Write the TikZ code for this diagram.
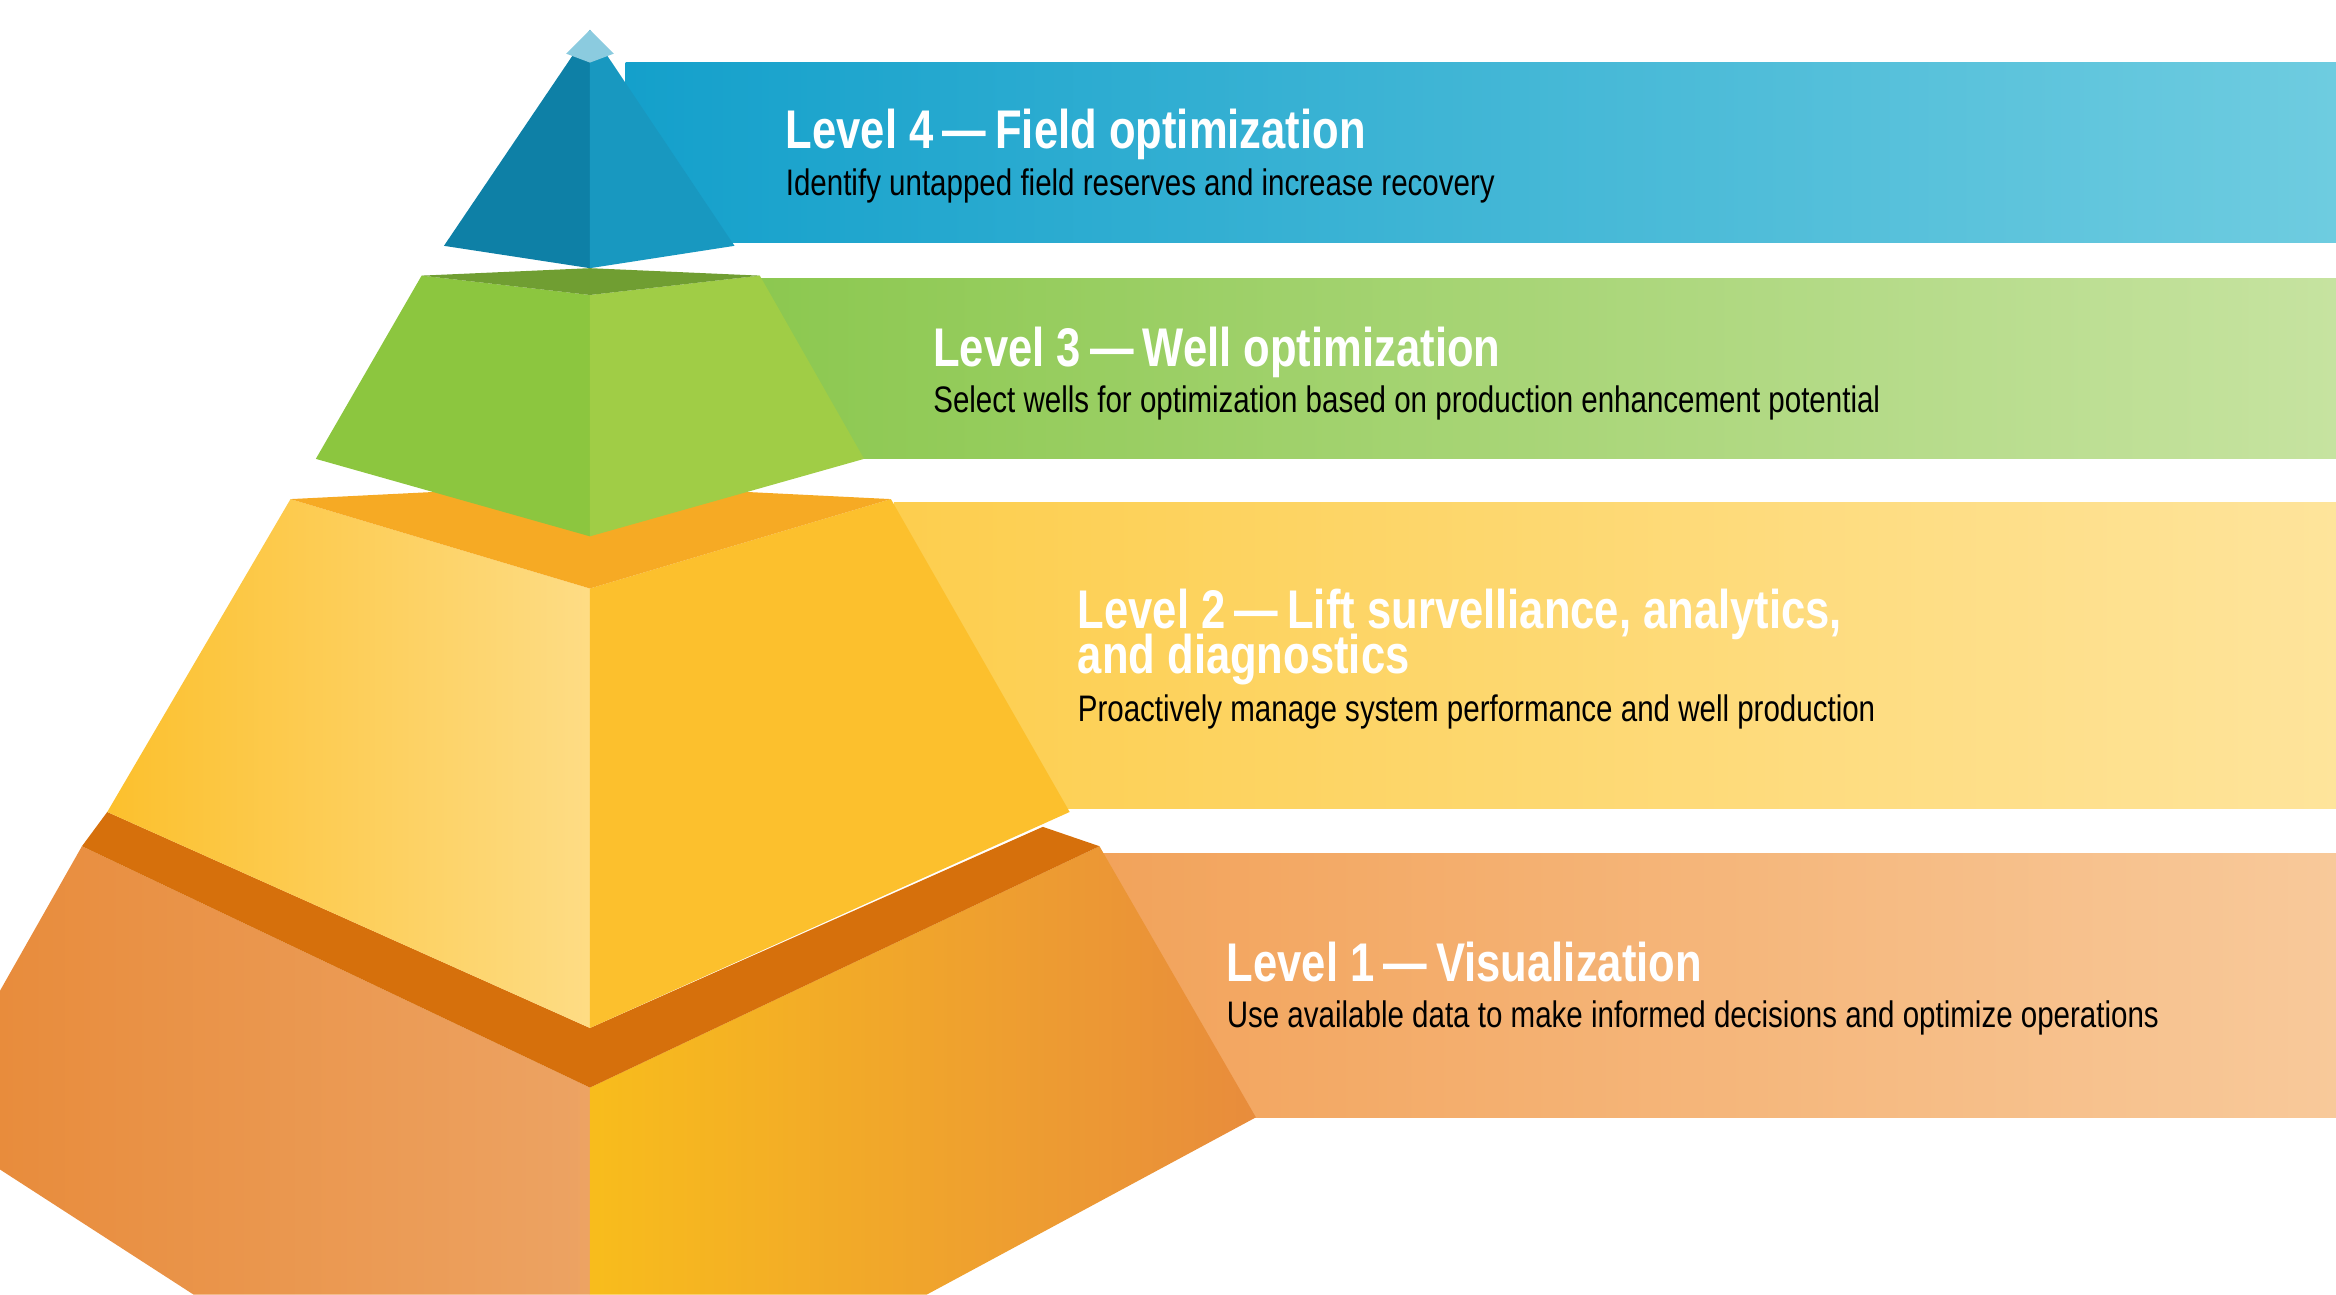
\documentclass[tikz,border=0pt]{standalone}
\usepackage{fontspec}
\setmainfont{Liberation Sans}[FakeStretch=0.8]
\usetikzlibrary{positioning}
\definecolor{bluedark}{RGB}{14,128,166}
\definecolor{bluemid}{RGB}{24,152,192}
\definecolor{bluebandl}{RGB}{20,160,203}
\definecolor{bluebandr}{RGB}{110,204,224}
\definecolor{greenl}{RGB}{140,198,63}
\definecolor{greenr}{RGB}{160,205,70}
\definecolor{greenbandl}{RGB}{140,200,80}
\definecolor{greenbandr}{RGB}{198,227,160}
\definecolor{yellowl}{RGB}{253,205,80}
\definecolor{yellowr}{RGB}{252,192,45}
\definecolor{yellowbandl}{RGB}{253,206,78}
\definecolor{yellowbandr}{RGB}{254,228,155}
\definecolor{orangel}{RGB}{232,140,60}
\definecolor{oranger}{RGB}{245,160,40}
\definecolor{orangedark}{RGB}{214,112,12}
\definecolor{orangebandl}{RGB}{242,163,91}
\definecolor{orangebandr}{RGB}{248,201,154}
\tikzset{
  titletext/.style={anchor=base west, text=white, font=\fontsize{15.5}{15.5}\selectfont\bfseries, inner sep=0pt, align=left},
  subtext/.style={anchor=base west, text=black, font=\fontsize{10.5}{10.5}\selectfont, inner sep=0pt},
}
\begin{document}
\begin{tikzpicture}[x=0.14898mm, y=-0.14898mm]
    \useasboundingbox (0,0) rectangle (1568,869);
    % bands
    \shade[left color=bluebandl, right color=bluebandr] (420,42) rectangle (1568,163);
    \shade[left color=greenbandl, right color=greenbandr] (510,187) rectangle (1568,308);
    \shade[left color=yellowbandl, right color=yellowbandr] (600,337) rectangle (1568,543);
    \shade[left color=orangebandl, right color=orangebandr] (740,573) rectangle (1568,750);
    % level 1
    \shade[left color=orangel, right color=orangel!80!white] (55,568) -- (396,730) -- (396,869) -- (130,869) -- (0,785) -- (0,665) -- cycle;
    \shade[left color=oranger!70!yellow, right color=orangel] (396,730) -- (738,568) -- (843,750) -- (622,869) -- (396,869) -- cycle;
    \fill[orangedark] (55,568) -- (396,730) -- (738,568) -- (700,555) -- (396,690) -- (72,545) -- cycle;
    % level 2
    \shade[left color=yellowr, right color=yellowl!70!white] (195,335) -- (396,395) -- (396,690) -- (72,545) -- cycle;
    \fill[yellowr] (396,395) -- (598,335) -- (718,545) -- (396,690) -- cycle;
    \fill[oranger!90!yellow] (195,335) -- (396,325) -- (598,335) -- (396,395) -- cycle;
    % level 3
    \fill[greenl] (283,185) -- (396,198) -- (396,360) -- (212,308) -- cycle;
    \fill[greenr] (396,198) -- (510,185) -- (580,308) -- (396,360) -- cycle;
    \fill[greenl!80!black] (283,185) -- (396,180) -- (510,185) -- (396,198) -- cycle;
    % level 4
    \fill[bluedark] (396,20) -- (298,165) -- (396,180) -- cycle;
    \fill[bluemid] (396,20) -- (396,180) -- (493,165) -- cycle;
    \fill[bluemid!50!white] (396,20) -- (380,36) -- (396,42) -- (412,36) -- cycle;
    % texts
    \node[titletext] (t4) at (527,100) {Level 4\,—\,Field optimization};
    \node[subtext] (s4) at (527,131) {Identify untapped field reserves and increase recovery};
    \node[titletext] (t3) at (626,246) {Level 3\,—\,Well optimization};
    \node[subtext] (s3) at (626,277) {Select wells for optimization based on production enhancement potential};
    \node[titletext] (t2a) at (723,422) {Level 2\,—\,Lift survelliance, analytics,};
    \node[titletext] (t2b) at (723,452) {and diagnostics};
    \node[subtext] (s2) at (723,484) {Proactively manage system performance and well production};
    \node[titletext] (t1) at (823,659) {Level 1\,—\,Visualization};
    \node[subtext] (s1) at (823,690) {Use available data to make informed decisions and optimize operations};
\end{tikzpicture}
\end{document}
